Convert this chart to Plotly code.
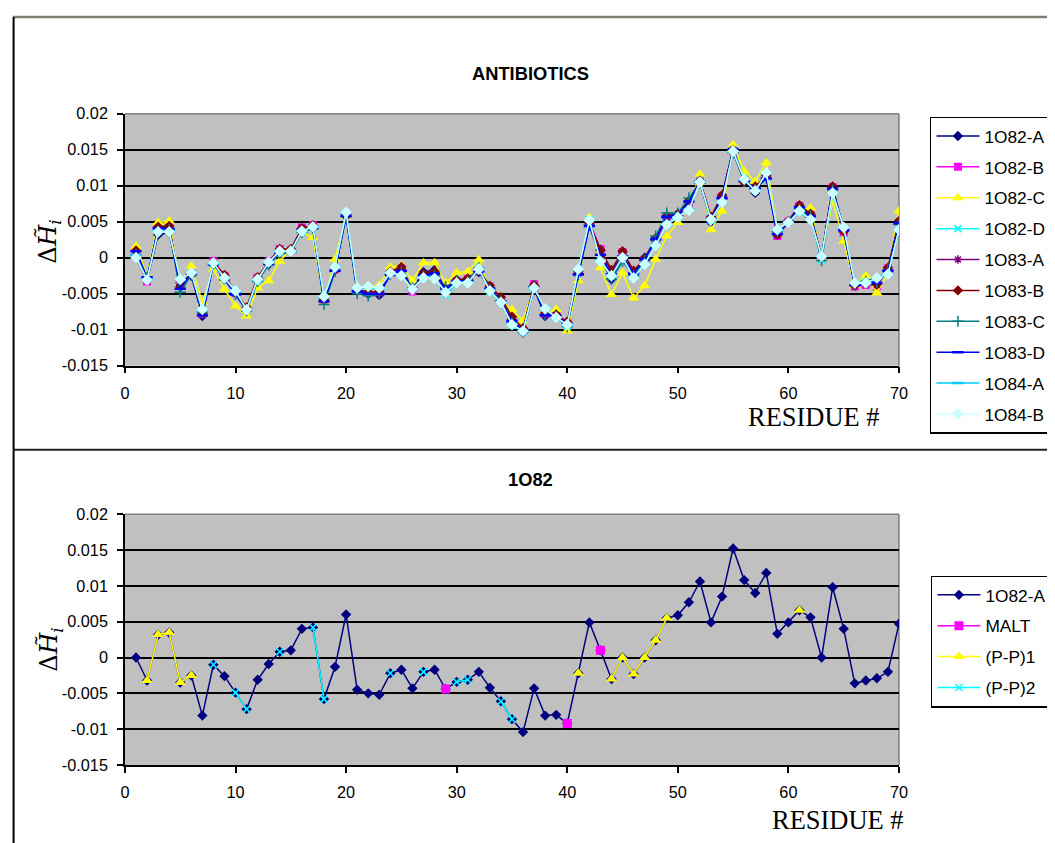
import plotly.graph_objects as go

# The photographed page turned out to be scaled slightly (about 0.988 horizontally and
# 0.979 vertically, with a small offset) relative to page pixels.  The helpers below
# convert target (reference-picture) pixel positions into figure fractions so that the
# photographed result lands where the reference has its elements.
SX, BX = 0.988, 3.0
SY, BY = 0.979, 7.4
OFF = 8                      # default body margin of the html page
W, H = 1057, 846             # figure size in page pixels
FS = 1.0 / 0.983             # font compensation

residues = list(range(1, 71))

a_1o82 = [0.0, -0.0032, 0.0032, 0.0035, -0.0035, -0.0025, -0.0081, -0.0010, -0.0026, -0.0049,
          -0.0072, -0.0031, -0.0009, 0.0008, 0.0010, 0.0040, 0.0042, -0.0058, -0.0013, 0.0060,
          -0.0045, -0.0050, -0.0052, -0.0022, -0.0017, -0.0043, -0.0020, -0.0017, -0.0044, -0.0034,
          -0.0031, -0.0020, -0.0042, -0.0061, -0.0086, -0.0104, -0.0043, -0.0081, -0.0080, -0.0092,
          -0.0022, 0.0049, 0.0010, -0.0030, 0.0000, -0.0023, 0.0000, 0.0024, 0.0055, 0.0059,
          0.0077, 0.0106, 0.0049, 0.0085, 0.0152, 0.0108, 0.0090, 0.0118, 0.0033, 0.0049,
          0.0066, 0.0056, 0.0000, 0.0098, 0.0040, -0.0036, -0.0032, -0.0029, -0.0020, 0.0047]

b_1o82 = [0.0005, -0.0033, 0.0042, 0.0042, -0.0038, -0.0022, -0.0078, -0.0005, -0.0025, -0.0048,
          -0.0070, -0.0028, -0.0005, 0.0012, 0.0010, 0.0042, 0.0045, -0.0060, -0.0016, 0.0060,
          -0.0045, -0.0047, -0.0048, -0.0020, -0.0015, -0.0047, -0.0025, -0.0022, -0.0046, -0.0033,
          -0.0030, -0.0018, -0.0040, -0.0058, -0.0085, -0.0100, -0.0037, -0.0078, -0.0080, -0.0090,
          -0.0020, 0.0050, 0.0012, -0.0018, 0.0008, -0.0020, -0.0003, 0.0022, 0.0055, 0.0058,
          0.0075, 0.0108, 0.0055, 0.0085, 0.0148, 0.0107, 0.0098, 0.0112, 0.0030, 0.0050,
          0.0072, 0.0060, 0.0000, 0.0098, 0.0035, -0.0040, -0.0038, -0.0040, -0.0015, 0.0048]

c_1o82 = [0.0016, -0.0025, 0.0049, 0.0051, -0.0035, -0.0012, -0.0062, -0.0016, -0.0044, -0.0067,
          -0.0081, -0.0042, -0.0032, -0.0005, 0.0012, 0.0035, 0.0028, -0.0060, -0.0002, 0.0058,
          -0.0040, -0.0042, -0.0038, -0.0013, -0.0011, -0.0032, -0.0007, -0.0007, -0.0035, -0.0021,
          -0.0019, -0.0003, -0.0045, -0.0060, -0.0072, -0.0088, -0.0040, -0.0074, -0.0072, -0.0102,
          -0.0032, 0.0056, -0.0014, -0.0051, -0.0021, -0.0056, -0.0039, -0.0002, 0.0030, 0.0049,
          0.0069, 0.0116, 0.0039, 0.0065, 0.0157, 0.0120, 0.0106, 0.0132, 0.0039, 0.0050,
          0.0065, 0.0069, 0.0000, 0.0079, 0.0023, -0.0039, -0.0025, -0.0049, -0.0021, 0.0065]

d_1o82 = [0.0002, -0.0030, 0.0038, 0.0038, -0.0032, -0.0022, -0.0075, -0.0008, -0.0030, -0.0047,
          -0.0073, -0.0032, -0.0007, 0.0008, 0.0010, 0.0036, 0.0042, -0.0056, -0.0014, 0.0062,
          -0.0043, -0.0042, -0.0045, -0.0022, -0.0024, -0.0043, -0.0028, -0.0028, -0.0052, -0.0036,
          -0.0034, -0.0015, -0.0047, -0.0063, -0.0094, -0.0103, -0.0043, -0.0072, -0.0083, -0.0095,
          -0.0018, 0.0053, -0.0004, -0.0026, 0.0001, -0.0027, -0.0008, 0.0018, 0.0047, 0.0057,
          0.0067, 0.0107, 0.0052, 0.0078, 0.0150, 0.0110, 0.0094, 0.0117, 0.0038, 0.0048,
          0.0064, 0.0054, -0.0003, 0.0088, 0.0041, -0.0036, -0.0034, -0.0030, -0.0022, 0.0040]

a_1o83 = [0.0008, -0.0031, 0.0040, 0.0043, -0.0037, -0.0023, -0.0079, -0.0007, -0.0027, -0.0050,
          -0.0071, -0.0029, -0.0007, 0.0011, 0.0011, 0.0041, 0.0044, -0.0059, -0.0015, 0.0059,
          -0.0046, -0.0049, -0.0049, -0.0021, -0.0016, -0.0045, -0.0023, -0.0020, -0.0045, -0.0032,
          -0.0031, -0.0019, -0.0041, -0.0059, -0.0087, -0.0101, -0.0039, -0.0079, -0.0081, -0.0091,
          -0.0021, 0.0048, 0.0010, -0.0019, 0.0006, -0.0021, -0.0002, 0.0025, 0.0056, 0.0059,
          0.0077, 0.0106, 0.0054, 0.0084, 0.0150, 0.0106, 0.0096, 0.0113, 0.0031, 0.0049,
          0.0071, 0.0059, 0.0001, 0.0097, 0.0037, -0.0038, -0.0037, -0.0038, -0.0016, 0.0050]

b_1o83 = [0.0010, -0.0030, 0.0043, 0.0044, -0.0040, -0.0021, -0.0077, -0.0006, -0.0024, -0.0048,
          -0.0069, -0.0027, -0.0006, 0.0012, 0.0012, 0.0041, 0.0045, -0.0058, -0.0017, 0.0058,
          -0.0044, -0.0048, -0.0047, -0.0019, -0.0013, -0.0044, -0.0022, -0.0019, -0.0043, -0.0031,
          -0.0029, -0.0017, -0.0039, -0.0055, -0.0082, -0.0098, -0.0038, -0.0077, -0.0079, -0.0089,
          -0.0019, 0.0047, 0.0011, -0.0017, 0.0009, -0.0018, -0.0001, 0.0027, 0.0058, 0.0061,
          0.0079, 0.0107, 0.0057, 0.0087, 0.0149, 0.0105, 0.0099, 0.0114, 0.0032, 0.0051,
          0.0073, 0.0061, 0.0002, 0.0099, 0.0036, -0.0039, -0.0036, -0.0037, -0.0014, 0.0051]

c_1o83 = [0.0004, -0.0028, 0.0037, 0.0039, -0.0048, -0.0024, -0.0076, -0.0009, -0.0029, -0.0051,
          -0.0074, -0.0033, -0.0010, 0.0006, 0.0008, 0.0035, 0.0040, -0.0065, -0.0019, 0.0057,
          -0.0050, -0.0053, -0.0051, -0.0023, -0.0019, -0.0042, -0.0026, -0.0024, -0.0040, -0.0033,
          -0.0032, -0.0014, -0.0044, -0.0060, -0.0090, -0.0103, -0.0040, -0.0079, -0.0082, -0.0096,
          -0.0024, 0.0045, -0.0002, -0.0030, -0.0005, -0.0025, -0.0004, 0.0030, 0.0062, 0.0062,
          0.0083, 0.0104, 0.0051, 0.0082, 0.0146, 0.0106, 0.0095, 0.0110, 0.0036, 0.0049,
          0.0068, 0.0058, -0.0004, 0.0094, 0.0038, -0.0037, -0.0033, -0.0034, -0.0017, 0.0046]

d_1o83 = [0.0009, -0.0027, 0.0041, 0.0040, -0.0043, -0.0022, -0.0080, -0.0009, -0.0030, -0.0051,
          -0.0072, -0.0030, -0.0008, 0.0008, 0.0009, 0.0039, 0.0042, -0.0061, -0.0018, 0.0058,
          -0.0047, -0.0050, -0.0050, -0.0024, -0.0018, -0.0044, -0.0024, -0.0022, -0.0042, -0.0033,
          -0.0032, -0.0019, -0.0043, -0.0061, -0.0088, -0.0101, -0.0041, -0.0080, -0.0081, -0.0092,
          -0.0023, 0.0044, 0.0004, -0.0023, 0.0002, -0.0022, -0.0002, 0.0026, 0.0057, 0.0059,
          0.0078, 0.0105, 0.0054, 0.0083, 0.0150, 0.0107, 0.0096, 0.0110, 0.0033, 0.0050,
          0.0070, 0.0058, 0.0001, 0.0096, 0.0038, -0.0038, -0.0036, -0.0035, -0.0018, 0.0048]

a_1o84 = [0.0003, -0.0030, 0.0037, 0.0037, -0.0031, -0.0021, -0.0073, -0.0008, -0.0029, -0.0047,
          -0.0072, -0.0031, -0.0007, 0.0009, 0.0009, 0.0037, 0.0043, -0.0055, -0.0013, 0.0062,
          -0.0043, -0.0041, -0.0043, -0.0021, -0.0024, -0.0043, -0.0027, -0.0028, -0.0047, -0.0035,
          -0.0034, -0.0016, -0.0045, -0.0062, -0.0092, -0.0102, -0.0042, -0.0072, -0.0083, -0.0094,
          -0.0017, 0.0052, -0.0004, -0.0025, 0.0001, -0.0027, -0.0008, 0.0017, 0.0046, 0.0056,
          0.0067, 0.0106, 0.0053, 0.0077, 0.0148, 0.0109, 0.0093, 0.0117, 0.0039, 0.0049,
          0.0065, 0.0054, 0.0002, 0.0090, 0.0042, -0.0035, -0.0035, -0.0028, -0.0023, 0.0040]

b_1o84 = [0.0000, -0.0031, 0.0036, 0.0036, -0.0030, -0.0021, -0.0072, -0.0007, -0.0028, -0.0046,
          -0.0072, -0.0030, -0.0006, 0.0009, 0.0009, 0.0037, 0.0043, -0.0054, -0.0013, 0.0063,
          -0.0042, -0.0040, -0.0042, -0.0021, -0.0025, -0.0044, -0.0028, -0.0029, -0.0048, -0.0035,
          -0.0035, -0.0016, -0.0046, -0.0062, -0.0093, -0.0102, -0.0042, -0.0071, -0.0083, -0.0093,
          -0.0016, 0.0052, -0.0005, -0.0025, 0.0000, -0.0028, -0.0009, 0.0017, 0.0046, 0.0056,
          0.0066, 0.0105, 0.0053, 0.0077, 0.0148, 0.0109, 0.0093, 0.0118, 0.0039, 0.0049,
          0.0065, 0.0053, 0.0002, 0.0090, 0.0042, -0.0035, -0.0035, -0.0028, -0.0023, 0.0039]

# residue memberships for the lower chart
malt_res = [29, 40, 43]
pp1_res = [2, 3, 4, 5, 6, 41, 44, 45, 46, 47, 48, 49, 61]
pp2_res = [8, 10, 11, 14, 17, 18, 24, 27, 30, 31, 34, 35]

y_tickvals = [0.02, 0.015, 0.01, 0.005, 0.0, -0.005, -0.01, -0.015]
y_ticktext = ["0.02", "0.015", "0.01", "0.005", "0", "-0.005", "-0.01", "-0.015"]
x_tickvals = [0, 10, 20, 30, 40, 50, 60, 70]

top_series = [
    ("1O82-A", a_1o82, "#000080", "diamond", 8, 0),
    ("1O82-B", b_1o82, "#FF00FF", "square", 8, 0),
    ("1O82-C", c_1o82, "#FFFF00", "triangle-up", 10, 0),
    ("1O82-D", d_1o82, "#00FFFF", "x-thin-open", 7, 1.5),
    ("1O83-A", a_1o83, "#800080", "asterisk-open", 7, 1.5),
    ("1O83-B", b_1o83, "#800000", "diamond", 8, 0),
    ("1O83-C", c_1o83, "#008080", "cross-thin-open", 8, 1.5),
    ("1O83-D", d_1o83, "#0000FF", "line-ew-open", 8, 2.5),
    ("1O84-A", a_1o84, "#00CCFF", "line-ew-open", 8, 2.5),
    ("1O84-B", b_1o84, "#CCFFFF", "diamond", 9, 0),
]


def px_x(t):
    page = (t - BX) / SX
    return min(max((page - OFF) / W, 0.0), 1.0)


def px_y(t):
    page = (t - BY) / SY
    return min(max(1 - (page - OFF) / H, 0.0), 1.0)


fig = go.Figure()

for i, (name, vals, col, sym, size, lw) in enumerate(top_series):
    mk = dict(symbol=sym, size=size, color=col)
    if lw:
        mk["line"] = dict(color=col, width=lw)
    fig.add_trace(go.Scatter(
        x=residues, y=vals, name=name, mode="lines+markers",
        line=dict(color=col, width=1.5), marker=mk,
        xaxis="x", yaxis="y", legend="legend", legendgroup="t%d" % i,
    ))


def subset(res_list):
    return [a_1o82[r - 1] if r in res_list else None for r in residues]


fig.add_trace(go.Scatter(
    x=residues, y=a_1o82, name="1O82-A", mode="lines+markers",
    line=dict(color="#000080", width=1.5),
    marker=dict(symbol="diamond", size=8, color="#000080"),
    xaxis="x2", yaxis="y2", legend="legend2", legendgroup="b0",
))
fig.add_trace(go.Scatter(
    x=residues, y=subset(malt_res), name="MALT", mode="lines+markers",
    line=dict(color="#FF00FF", width=1.5),
    marker=dict(symbol="square", size=9, color="#FF00FF"),
    connectgaps=False, xaxis="x2", yaxis="y2", legend="legend2", legendgroup="b1",
))
fig.add_trace(go.Scatter(
    x=residues, y=subset(pp1_res), name="(P-P)1", mode="lines+markers",
    line=dict(color="#FFFF00", width=1.5),
    marker=dict(symbol="triangle-up", size=10, color="#FFFF00"),
    connectgaps=False, xaxis="x2", yaxis="y2", legend="legend2", legendgroup="b2",
))
fig.add_trace(go.Scatter(
    x=residues, y=subset(pp2_res), name="(P-P)2", mode="lines+markers",
    line=dict(color="#00FFFF", width=1.5),
    marker=dict(symbol="x-thin-open", size=7, color="#00FFFF",
                line=dict(color="#00FFFF", width=1.5)),
    connectgaps=False, xaxis="x2", yaxis="y2", legend="legend2", legendgroup="b3",
))

tickfont = dict(family="Liberation Sans, Arial, sans-serif", size=16 * FS, color="black")

xcommon = dict(range=[0, 70], tickvals=x_tickvals, ticks="outside", ticklen=6,
               tickwidth=1.5, tickcolor="black", showline=True, linecolor="black",
               linewidth=1.5, showgrid=False, zeroline=False, tickfont=tickfont,
               ticklabelstandoff=6, fixedrange=True)
ycommon = dict(range=[-0.015, 0.02], tickvals=y_tickvals, ticktext=y_ticktext,
               ticks="outside", ticklen=6, tickwidth=1.5, tickcolor="black",
               showline=True, linecolor="black", linewidth=1.5, showgrid=True,
               gridcolor="black", gridwidth=1.6, zeroline=False, tickfont=tickfont,
               ticklabelstandoff=6, fixedrange=True)

# target positions in reference-picture pixels
x0, x1 = 123, 898
top_y0, top_y1 = 112, 364
bot_y0, bot_y1 = 512.5, 763.5

legend_font = dict(family="Liberation Sans, Arial, sans-serif", size=17 * FS, color="black")

fig.update_layout(
    width=W, height=H,
    margin=dict(l=0, r=0, t=0, b=0),
    paper_bgcolor="white",
    plot_bgcolor="#C0C0C0",
    xaxis=dict(domain=[px_x(x0), px_x(x1)], anchor="y", **xcommon),
    yaxis=dict(domain=[px_y(top_y1), px_y(top_y0)], anchor="x", **ycommon),
    xaxis2=dict(domain=[px_x(x0), px_x(x1)], anchor="y2", **xcommon),
    yaxis2=dict(domain=[px_y(bot_y1), px_y(bot_y0)], anchor="x2", **ycommon),
    legend=dict(x=px_x(929), y=px_y(115), xanchor="left", yanchor="top",
                bgcolor="white", bordercolor="black", borderwidth=1.5,
                font=legend_font, itemwidth=43, tracegroupgap=5.4,
                itemclick=False, itemdoubleclick=False),
    legend2=dict(x=px_x(930), y=px_y(574), xanchor="left", yanchor="top",
                 bgcolor="white", bordercolor="black", borderwidth=1.5,
                 font=legend_font, itemwidth=43, tracegroupgap=5.4,
                 itemclick=False, itemdoubleclick=False),
    showlegend=True,
)

title_font = dict(family="Liberation Sans, Arial, sans-serif", size=18 * FS, color="black")
serif_font = dict(family="Liberation Serif, Times New Roman, serif", size=26 * FS, color="black")
ylab_font = dict(family="DejaVu Serif, Liberation Serif, serif", size=24 * FS, color="black")

annotations = [
    dict(text="<b>ANTIBIOTICS</b>", x=px_x(529), y=px_y(72), font=title_font),
    dict(text="<b>1O82</b>", x=px_x(529), y=px_y(478), font=title_font),
    dict(text="RESIDUE #", x=px_x(812), y=px_y(415), font=serif_font),
    dict(text="RESIDUE #", x=px_x(836), y=px_y(818), font=serif_font),
    dict(text="Δ<i>H̃</i><sub><i>i</i></sub>", x=px_x(47), y=px_y(240), font=ylab_font, textangle=-90),
    dict(text="Δ<i>H̃</i><sub><i>i</i></sub>", x=px_x(48), y=px_y(648), font=ylab_font, textangle=-90),
]
for ann in annotations:
    ann.update(xref="paper", yref="paper", showarrow=False, xanchor="center", yanchor="middle")
fig.update_layout(annotations=annotations)

shapes = [
    # outer frame of the screenshot
    dict(type="line", x0=px_x(9), x1=1, y0=px_y(15), y1=px_y(15),
         line=dict(color="#7F7F6F", width=2.5), layer="below"),
    dict(type="line", x0=px_x(11.5), x1=px_x(11.5), y0=px_y(15), y1=0,
         line=dict(color="black", width=2), layer="below"),
    dict(type="line", x0=px_x(11), x1=1, y0=px_y(448), y1=px_y(448),
         line=dict(color="#202020", width=2), layer="below"),
    # plot area top/right gray borders
    dict(type="line", x0=px_x(x0), x1=px_x(x1), y0=px_y(top_y0), y1=px_y(top_y0),
         line=dict(color="#808080", width=1.5), layer="between"),
    dict(type="line", x0=px_x(x1), x1=px_x(x1), y0=px_y(top_y0), y1=px_y(top_y1),
         line=dict(color="#808080", width=1.5), layer="between"),
    dict(type="line", x0=px_x(x0), x1=px_x(x1), y0=px_y(bot_y0), y1=px_y(bot_y0),
         line=dict(color="#808080", width=1.5), layer="between"),
    dict(type="line", x0=px_x(x1), x1=px_x(x1), y0=px_y(bot_y0), y1=px_y(bot_y1),
         line=dict(color="#808080", width=1.5), layer="between"),
]
for s in shapes:
    s.update(xref="paper", yref="paper")
fig.update_layout(shapes=shapes)

fig.write_html("out.html", config={"displayModeBar": False})
